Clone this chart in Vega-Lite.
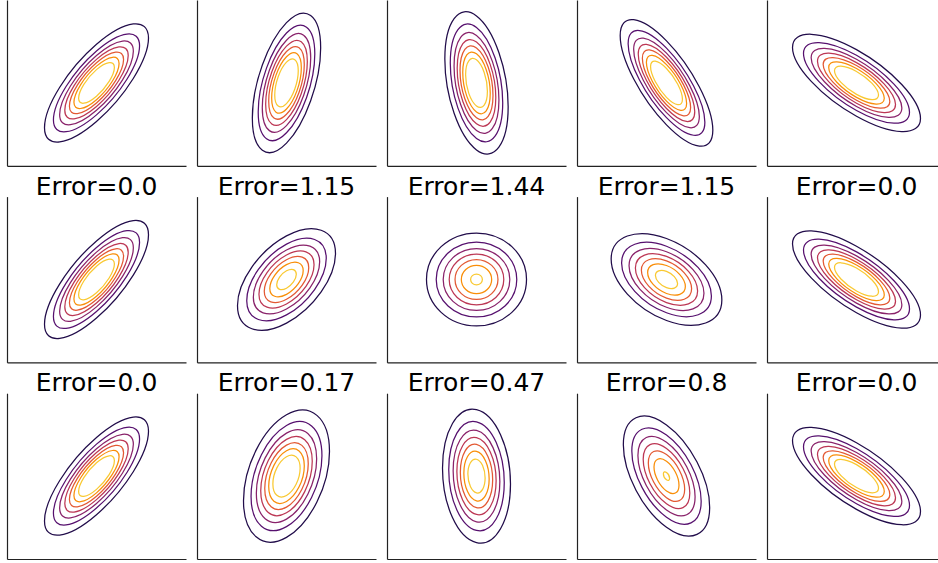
{
"$schema": "https://vega.github.io/schema/vega-lite/v6.json",
"background": "white",
"padding": {"left": 7, "top": 0, "right": 0, "bottom": 4},
"data": {"values": [
{"p":1,"k":1,"m":2.101,"mx":0,"my":0},{"p":1,"k":2,"m":1.740,"mx":0,"my":0},{"p":1,"k":3,"m":1.489,"mx":0,"my":0},{"p":1,"k":4,"m":1.281,"mx":0,"my":0},{"p":1,"k":5,"m":1.094,"mx":0,"my":0},{"p":1,"k":6,"m":0.912,"mx":0,"my":0},{"p":1,"k":7,"m":0.723,"mx":0,"my":0},
{"p":2,"k":1,"m":2.101,"mx":0,"my":0},{"p":2,"k":2,"m":1.740,"mx":0,"my":0},{"p":2,"k":3,"m":1.489,"mx":0,"my":0},{"p":2,"k":4,"m":1.281,"mx":0,"my":0},{"p":2,"k":5,"m":1.094,"mx":0,"my":0},{"p":2,"k":6,"m":0.912,"mx":0,"my":0},{"p":2,"k":7,"m":0.723,"mx":0,"my":0},
{"p":3,"k":1,"m":2.101,"mx":0,"my":0},{"p":3,"k":2,"m":1.740,"mx":0,"my":0},{"p":3,"k":3,"m":1.489,"mx":0,"my":0},{"p":3,"k":4,"m":1.281,"mx":0,"my":0},{"p":3,"k":5,"m":1.094,"mx":0,"my":0},{"p":3,"k":6,"m":0.912,"mx":0,"my":0},{"p":3,"k":7,"m":0.723,"mx":0,"my":0},
{"p":4,"k":1,"m":2.101,"mx":0,"my":0},{"p":4,"k":2,"m":1.740,"mx":0,"my":0},{"p":4,"k":3,"m":1.489,"mx":0,"my":0},{"p":4,"k":4,"m":1.281,"mx":0,"my":0},{"p":4,"k":5,"m":1.094,"mx":0,"my":0},{"p":4,"k":6,"m":0.912,"mx":0,"my":0},{"p":4,"k":7,"m":0.723,"mx":0,"my":0},
{"p":5,"k":1,"m":2.101,"mx":0,"my":0},{"p":5,"k":2,"m":1.740,"mx":0,"my":0},{"p":5,"k":3,"m":1.489,"mx":0,"my":0},{"p":5,"k":4,"m":1.281,"mx":0,"my":0},{"p":5,"k":5,"m":1.094,"mx":0,"my":0},{"p":5,"k":6,"m":0.912,"mx":0,"my":0},{"p":5,"k":7,"m":0.723,"mx":0,"my":0},
{"p":6,"k":1,"m":2.101,"mx":0,"my":0},{"p":6,"k":2,"m":1.740,"mx":0,"my":0},{"p":6,"k":3,"m":1.489,"mx":0,"my":0},{"p":6,"k":4,"m":1.281,"mx":0,"my":0},{"p":6,"k":5,"m":1.094,"mx":0,"my":0},{"p":6,"k":6,"m":0.912,"mx":0,"my":0},{"p":6,"k":7,"m":0.723,"mx":0,"my":0},
{"p":7,"k":1,"m":2.014,"mx":0,"my":0},{"p":7,"k":2,"m":1.634,"mx":0,"my":0},{"p":7,"k":3,"m":1.363,"mx":0,"my":0},{"p":7,"k":4,"m":1.132,"mx":0,"my":0},{"p":7,"k":5,"m":0.914,"mx":0,"my":0},{"p":7,"k":6,"m":0.686,"mx":0,"my":0},{"p":7,"k":7,"m":0.403,"mx":0,"my":0},
{"p":8,"k":1,"m":1.987,"mx":0,"my":0},{"p":8,"k":2,"m":1.600,"mx":0,"my":0},{"p":8,"k":3,"m":1.323,"mx":0,"my":0},{"p":8,"k":4,"m":1.084,"mx":0,"my":0},{"p":8,"k":5,"m":0.853,"mx":0,"my":0},{"p":8,"k":6,"m":0.603,"mx":0,"my":0},{"p":8,"k":7,"m":0.234,"mx":0,"my":0},
{"p":9,"k":1,"m":2.014,"mx":0,"my":0},{"p":9,"k":2,"m":1.634,"mx":0,"my":0},{"p":9,"k":3,"m":1.363,"mx":0,"my":0},{"p":9,"k":4,"m":1.132,"mx":0,"my":0},{"p":9,"k":5,"m":0.914,"mx":0,"my":0},{"p":9,"k":6,"m":0.686,"mx":0,"my":0},{"p":9,"k":7,"m":0.403,"mx":0,"my":0},
{"p":10,"k":1,"m":2.101,"mx":0,"my":0},{"p":10,"k":2,"m":1.740,"mx":0,"my":0},{"p":10,"k":3,"m":1.489,"mx":0,"my":0},{"p":10,"k":4,"m":1.281,"mx":0,"my":0},{"p":10,"k":5,"m":1.094,"mx":0,"my":0},{"p":10,"k":6,"m":0.912,"mx":0,"my":0},{"p":10,"k":7,"m":0.723,"mx":0,"my":0},
{"p":11,"k":1,"m":2.101,"mx":0,"my":0},{"p":11,"k":2,"m":1.740,"mx":0,"my":0},{"p":11,"k":3,"m":1.489,"mx":0,"my":0},{"p":11,"k":4,"m":1.281,"mx":0,"my":0},{"p":11,"k":5,"m":1.094,"mx":0,"my":0},{"p":11,"k":6,"m":0.912,"mx":0,"my":0},{"p":11,"k":7,"m":0.723,"mx":0,"my":0},
{"p":12,"k":1,"m":2.080,"mx":0,"my":0},{"p":12,"k":2,"m":1.715,"mx":0,"my":0},{"p":12,"k":3,"m":1.459,"mx":0,"my":0},{"p":12,"k":4,"m":1.246,"mx":0,"my":0},{"p":12,"k":5,"m":1.052,"mx":0,"my":0},{"p":12,"k":6,"m":0.861,"mx":0,"my":0},{"p":12,"k":7,"m":0.659,"mx":0,"my":0},
{"p":13,"k":1,"m":2.039,"mx":0,"my":0},{"p":13,"k":2,"m":1.665,"mx":0,"my":0},{"p":13,"k":3,"m":1.401,"mx":0,"my":0},{"p":13,"k":4,"m":1.177,"mx":0,"my":0},{"p":13,"k":5,"m":0.970,"mx":0,"my":0},{"p":13,"k":6,"m":0.759,"mx":0,"my":0},{"p":13,"k":7,"m":0.517,"mx":0,"my":0},
{"p":14,"k":1,"m":1.978,"mx":0,"my":0},{"p":14,"k":2,"m":1.589,"mx":0,"my":0},{"p":14,"k":3,"m":1.310,"mx":0,"my":0},{"p":14,"k":4,"m":1.068,"mx":0,"my":0},{"p":14,"k":5,"m":0.833,"mx":0,"my":0},{"p":14,"k":6,"m":0.573,"mx":0,"my":0},{"p":14,"k":7,"m":0.143,"mx":0,"my":0},
{"p":15,"k":1,"m":2.101,"mx":0,"my":0},{"p":15,"k":2,"m":1.740,"mx":0,"my":0},{"p":15,"k":3,"m":1.489,"mx":0,"my":0},{"p":15,"k":4,"m":1.281,"mx":0,"my":0},{"p":15,"k":5,"m":1.094,"mx":0,"my":0},{"p":15,"k":6,"m":0.912,"mx":0,"my":0},{"p":15,"k":7,"m":0.723,"mx":0,"my":0}
]},
"columns": 5,
"spacing": {"row": 30.6, "column": 11},
"bounds": "flush",
"concat": [
{"transform":[{"filter":"datum.p==1"}],"mark":{"type":"point","shape":"M 24.75 -21.32 C 24.75 -11.17 13.67 6.6 0 18.37 C -13.67 30.15 -24.75 31.47 -24.75 21.32 C -24.75 11.17 -13.67 -6.6 0 -18.37 C 13.67 -30.15 24.75 -31.47 24.75 -21.32 Z"},
 "encoding":{"x":{"field":"mx","type":"quantitative","scale":{"domain":[-3,3]},"axis":{"title":null}},"y":{"field":"my","type":"quantitative","scale":{"domain":[-3,3]},"axis":{"title":null}},"size":{"field":"m","type":"quantitative","scale":{"type":"pow","exponent":2,"domain":[0,3],"range":[0,36]},"legend":null},"color":{"field":"k","type":"ordinal","scale":{"domain":[1,2,3,4,5,6,7],"range":["#210c4a","#56106e","#89226a","#bc3754","#e35933","#f98e09","#f9c932"]},"legend":null}}},
{"transform":[{"filter":"datum.p==2"}],"mark":{"type":"point","shape":"M 16.26 -16.66 C 16.26 -0.83 8.98 19.47 0 28.67 C -8.98 37.87 -16.26 32.49 -16.26 16.66 C -16.26 0.83 -8.98 -19.47 0 -28.67 C 8.98 -37.87 16.26 -32.49 16.26 -16.66 Z"},
 "encoding":{"x":{"field":"mx","type":"quantitative","scale":{"domain":[-3,3]},"axis":{"title":null}},"y":{"field":"my","type":"quantitative","scale":{"domain":[-3,3]},"axis":{"title":null}},"size":{"field":"m","type":"quantitative","scale":{"type":"pow","exponent":2,"domain":[0,3],"range":[0,36]},"legend":null},"color":{"field":"k","type":"ordinal","scale":{"domain":[1,2,3,4,5,6,7],"range":["#210c4a","#56106e","#89226a","#bc3754","#e35933","#f98e09","#f9c932"]},"legend":null}}},
{"transform":[{"filter":"datum.p==3"}],"mark":{"type":"point","shape":"M 15.07 11.41 C 15.07 29.02 8.32 38.19 0 31.89 C -8.32 25.59 -15.07 6.2 -15.07 -11.41 C -15.07 -29.02 -8.32 -38.19 0 -31.89 C 8.32 -25.59 15.07 -6.2 15.07 11.41 Z"},
 "encoding":{"x":{"field":"mx","type":"quantitative","scale":{"domain":[-3,3]},"axis":{"title":null}},"y":{"field":"my","type":"quantitative","scale":{"domain":[-3,3]},"axis":{"title":null}},"size":{"field":"m","type":"quantitative","scale":{"type":"pow","exponent":2,"domain":[0,3],"range":[0,36]},"legend":null},"color":{"field":"k","type":"ordinal","scale":{"domain":[1,2,3,4,5,6,7],"range":["#210c4a","#56106e","#89226a","#bc3754","#e35933","#f98e09","#f9c932"]},"legend":null}}},
{"transform":[{"filter":"datum.p==4"}],"mark":{"type":"point","shape":"M 22.05 22.56 C 22.05 33.6 12.18 32.45 0 19.99 C -12.18 7.53 -22.05 -11.52 -22.05 -22.56 C -22.05 -33.6 -12.18 -32.45 0 -19.99 C 12.18 -7.53 22.05 11.52 22.05 22.56 Z"},
 "encoding":{"x":{"field":"mx","type":"quantitative","scale":{"domain":[-3,3]},"axis":{"title":null}},"y":{"field":"my","type":"quantitative","scale":{"domain":[-3,3]},"axis":{"title":null}},"size":{"field":"m","type":"quantitative","scale":{"type":"pow","exponent":2,"domain":[0,3],"range":[0,36]},"legend":null},"color":{"field":"k","type":"ordinal","scale":{"domain":[1,2,3,4,5,6,7],"range":["#210c4a","#56106e","#89226a","#bc3754","#e35933","#f98e09","#f9c932"]},"legend":null}}},
{"transform":[{"filter":"datum.p==5"}],"mark":{"type":"point","shape":"M 30.46 16.9 C 30.46 25.65 16.82 25.18 0 15.85 C -16.82 6.52 -30.46 -8.15 -30.46 -16.9 C -30.46 -25.65 -16.82 -25.18 0 -15.85 C 16.82 -6.52 30.46 8.15 30.46 16.9 Z"},
 "encoding":{"x":{"field":"mx","type":"quantitative","scale":{"domain":[-3,3]},"axis":{"title":null}},"y":{"field":"my","type":"quantitative","scale":{"domain":[-3,3]},"axis":{"title":null}},"size":{"field":"m","type":"quantitative","scale":{"type":"pow","exponent":2,"domain":[0,3],"range":[0,36]},"legend":null},"color":{"field":"k","type":"ordinal","scale":{"domain":[1,2,3,4,5,6,7],"range":["#210c4a","#56106e","#89226a","#bc3754","#e35933","#f98e09","#f9c932"]},"legend":null}}},
{"title":"Error=0.0","transform":[{"filter":"datum.p==6"}],"mark":{"type":"point","shape":"M 24.75 -21.32 C 24.75 -11.17 13.67 6.6 0 18.37 C -13.67 30.15 -24.75 31.47 -24.75 21.32 C -24.75 11.17 -13.67 -6.6 0 -18.37 C 13.67 -30.15 24.75 -31.47 24.75 -21.32 Z"},
 "encoding":{"x":{"field":"mx","type":"quantitative","scale":{"domain":[-3,3]},"axis":{"title":null}},"y":{"field":"my","type":"quantitative","scale":{"domain":[-3,3]},"axis":{"title":null}},"size":{"field":"m","type":"quantitative","scale":{"type":"pow","exponent":2,"domain":[0,3],"range":[0,36]},"legend":null},"color":{"field":"k","type":"ordinal","scale":{"domain":[1,2,3,4,5,6,7],"range":["#210c4a","#56106e","#89226a","#bc3754","#e35933","#f98e09","#f9c932"]},"legend":null}}},
{"title":"Error=1.15","transform":[{"filter":"datum.p==7"}],"mark":{"type":"point","shape":"M 24.33 -12.95 C 24.33 -0.99 13.44 14.5 0 21.65 C -13.44 28.8 -24.33 24.91 -24.33 12.95 C -24.33 0.99 -13.44 -14.5 0 -21.65 C 13.44 -28.8 24.33 -24.91 24.33 -12.95 Z"},
 "encoding":{"x":{"field":"mx","type":"quantitative","scale":{"domain":[-3,3]},"axis":{"title":null}},"y":{"field":"my","type":"quantitative","scale":{"domain":[-3,3]},"axis":{"title":null}},"size":{"field":"m","type":"quantitative","scale":{"type":"pow","exponent":2,"domain":[0,3],"range":[0,36]},"legend":null},"color":{"field":"k","type":"ordinal","scale":{"domain":[1,2,3,4,5,6,7],"range":["#210c4a","#56106e","#89226a","#bc3754","#e35933","#f98e09","#f9c932"]},"legend":null}}},
{"title":"Error=1.44","transform":[{"filter":"datum.p==8"}],"mark":{"type":"point","shape":"M 25.17 0 C 25.17 12.92 13.9 23.4 0 23.4 C -13.9 23.4 -25.17 12.92 -25.17 0 C -25.17 -12.92 -13.9 -23.4 0 -23.4 C 13.9 -23.4 25.17 -12.92 25.17 0 Z"},
 "encoding":{"x":{"field":"mx","type":"quantitative","scale":{"domain":[-3,3]},"axis":{"title":null}},"y":{"field":"my","type":"quantitative","scale":{"domain":[-3,3]},"axis":{"title":null}},"size":{"field":"m","type":"quantitative","scale":{"type":"pow","exponent":2,"domain":[0,3],"range":[0,36]},"legend":null},"color":{"field":"k","type":"ordinal","scale":{"domain":[1,2,3,4,5,6,7],"range":["#210c4a","#56106e","#89226a","#bc3754","#e35933","#f98e09","#f9c932"]},"legend":null}}},
{"title":"Error=1.15","transform":[{"filter":"datum.p==9"}],"mark":{"type":"point","shape":"M 27.48 10.15 C 27.48 21.4 15.18 25.98 0 20.37 C -15.18 14.76 -27.48 1.1 -27.48 -10.15 C -27.48 -21.4 -15.18 -25.98 0 -20.37 C 15.18 -14.76 27.48 -1.1 27.48 10.15 Z"},
 "encoding":{"x":{"field":"mx","type":"quantitative","scale":{"domain":[-3,3]},"axis":{"title":null}},"y":{"field":"my","type":"quantitative","scale":{"domain":[-3,3]},"axis":{"title":null}},"size":{"field":"m","type":"quantitative","scale":{"type":"pow","exponent":2,"domain":[0,3],"range":[0,36]},"legend":null},"color":{"field":"k","type":"ordinal","scale":{"domain":[1,2,3,4,5,6,7],"range":["#210c4a","#56106e","#89226a","#bc3754","#e35933","#f98e09","#f9c932"]},"legend":null}}},
{"title":"Error=0.0","transform":[{"filter":"datum.p==10"}],"mark":{"type":"point","shape":"M 30.46 16.9 C 30.46 25.65 16.82 25.18 0 15.85 C -16.82 6.52 -30.46 -8.15 -30.46 -16.9 C -30.46 -25.65 -16.82 -25.18 0 -15.85 C 16.82 -6.52 30.46 8.15 30.46 16.9 Z"},
 "encoding":{"x":{"field":"mx","type":"quantitative","scale":{"domain":[-3,3]},"axis":{"title":null}},"y":{"field":"my","type":"quantitative","scale":{"domain":[-3,3]},"axis":{"title":null}},"size":{"field":"m","type":"quantitative","scale":{"type":"pow","exponent":2,"domain":[0,3],"range":[0,36]},"legend":null},"color":{"field":"k","type":"ordinal","scale":{"domain":[1,2,3,4,5,6,7],"range":["#210c4a","#56106e","#89226a","#bc3754","#e35933","#f98e09","#f9c932"]},"legend":null}}},
{"title":"Error=0.0","transform":[{"filter":"datum.p==11"}],"mark":{"type":"point","shape":"M 24.75 -21.32 C 24.75 -11.17 13.67 6.6 0 18.37 C -13.67 30.15 -24.75 31.47 -24.75 21.32 C -24.75 11.17 -13.67 -6.6 0 -18.37 C 13.67 -30.15 24.75 -31.47 24.75 -21.32 Z"},
 "encoding":{"x":{"field":"mx","type":"quantitative","scale":{"domain":[-3,3]},"axis":{"title":null}},"y":{"field":"my","type":"quantitative","scale":{"domain":[-3,3]},"axis":{"title":null}},"size":{"field":"m","type":"quantitative","scale":{"type":"pow","exponent":2,"domain":[0,3],"range":[0,36]},"legend":null},"color":{"field":"k","type":"ordinal","scale":{"domain":[1,2,3,4,5,6,7],"range":["#210c4a","#56106e","#89226a","#bc3754","#e35933","#f98e09","#f9c932"]},"legend":null}}},
{"title":"Error=0.17","transform":[{"filter":"datum.p==12"}],"mark":{"type":"point","shape":"M 20.67 -11.83 C 20.67 4.45 11.42 22.94 0 29.47 C -11.42 36 -20.67 28.11 -20.67 11.83 C -20.67 -4.45 -11.42 -22.94 0 -29.47 C 11.42 -36 20.67 -28.11 20.67 -11.83 Z"},
 "encoding":{"x":{"field":"mx","type":"quantitative","scale":{"domain":[-3,3]},"axis":{"title":null}},"y":{"field":"my","type":"quantitative","scale":{"domain":[-3,3]},"axis":{"title":null}},"size":{"field":"m","type":"quantitative","scale":{"type":"pow","exponent":2,"domain":[0,3],"range":[0,36]},"legend":null},"color":{"field":"k","type":"ordinal","scale":{"domain":[1,2,3,4,5,6,7],"range":["#210c4a","#56106e","#89226a","#bc3754","#e35933","#f98e09","#f9c932"]},"legend":null}}},
{"title":"Error=0.47","transform":[{"filter":"datum.p==13"}],"mark":{"type":"point","shape":"M 16.67 3.87 C 16.67 21.88 9.21 34.75 0 32.61 C -9.21 30.47 -16.67 14.14 -16.67 -3.87 C -16.67 -21.88 -9.21 -34.75 0 -32.61 C 9.21 -30.47 16.67 -14.14 16.67 3.87 Z"},
 "encoding":{"x":{"field":"mx","type":"quantitative","scale":{"domain":[-3,3]},"axis":{"title":null}},"y":{"field":"my","type":"quantitative","scale":{"domain":[-3,3]},"axis":{"title":null}},"size":{"field":"m","type":"quantitative","scale":{"type":"pow","exponent":2,"domain":[0,3],"range":[0,36]},"legend":null},"color":{"field":"k","type":"ordinal","scale":{"domain":[1,2,3,4,5,6,7],"range":["#210c4a","#56106e","#89226a","#bc3754","#e35933","#f98e09","#f9c932"]},"legend":null}}},
{"title":"Error=0.8","transform":[{"filter":"datum.p==14"}],"mark":{"type":"point","shape":"M 21.82 15.81 C 21.82 30.1 12.05 34.61 0 25.88 C -12.05 17.15 -21.82 -1.52 -21.82 -15.81 C -21.82 -30.1 -12.05 -34.61 0 -25.88 C 12.05 -17.15 21.82 1.52 21.82 15.81 Z"},
 "encoding":{"x":{"field":"mx","type":"quantitative","scale":{"domain":[-3,3]},"axis":{"title":null}},"y":{"field":"my","type":"quantitative","scale":{"domain":[-3,3]},"axis":{"title":null}},"size":{"field":"m","type":"quantitative","scale":{"type":"pow","exponent":2,"domain":[0,3],"range":[0,36]},"legend":null},"color":{"field":"k","type":"ordinal","scale":{"domain":[1,2,3,4,5,6,7],"range":["#210c4a","#56106e","#89226a","#bc3754","#e35933","#f98e09","#f9c932"]},"legend":null}}},
{"title":"Error=0.0","transform":[{"filter":"datum.p==15"}],"mark":{"type":"point","shape":"M 30.46 16.9 C 30.46 25.65 16.82 25.18 0 15.85 C -16.82 6.52 -30.46 -8.15 -30.46 -16.9 C -30.46 -25.65 -16.82 -25.18 0 -15.85 C 16.82 -6.52 30.46 8.15 30.46 16.9 Z"},
 "encoding":{"x":{"field":"mx","type":"quantitative","scale":{"domain":[-3,3]},"axis":{"title":null}},"y":{"field":"my","type":"quantitative","scale":{"domain":[-3,3]},"axis":{"title":null}},"size":{"field":"m","type":"quantitative","scale":{"type":"pow","exponent":2,"domain":[0,3],"range":[0,36]},"legend":null},"color":{"field":"k","type":"ordinal","scale":{"domain":[1,2,3,4,5,6,7],"range":["#210c4a","#56106e","#89226a","#bc3754","#e35933","#f98e09","#f9c932"]},"legend":null}}}
],
"config": {
 "view": {"continuousWidth": 179, "continuousHeight": 165.8, "stroke": null},
 "point": {"filled": false, "opacity": 1, "strokeWidth": 1.25},
 "axis": {"ticks": false, "labels": false, "grid": false, "domainColor": "#222222", "domainWidth": 1.2},
 "title": {"font": "DejaVu Sans", "fontSize": 25, "fontWeight": "normal", "color": "#000000", "anchor": "middle", "baseline": "alphabetic", "offset": -3}
}
}
